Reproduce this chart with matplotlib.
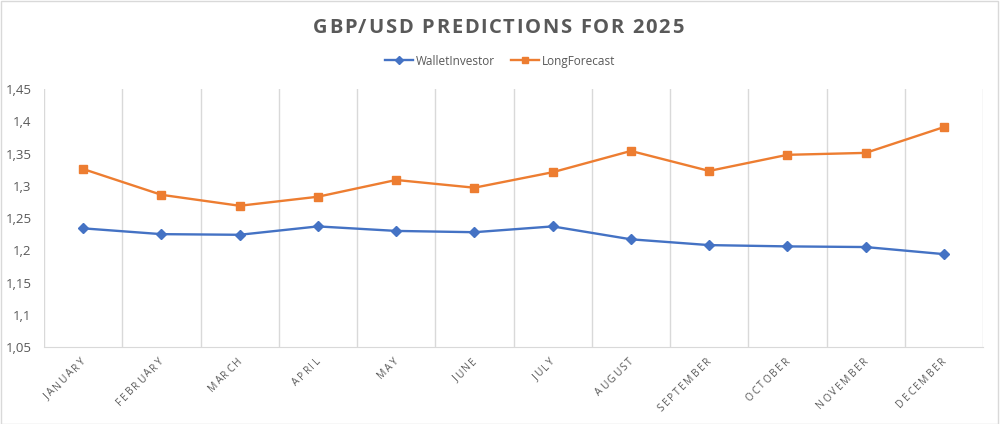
import math
import matplotlib
matplotlib.use("Agg")
import matplotlib.pyplot as plt
from matplotlib.ticker import FixedLocator, FuncFormatter
from matplotlib.patches import Rectangle

months = ["JANUARY", "FEBRUARY", "MARCH", "APRIL", "MAY", "JUNE", "JULY",
          "AUGUST", "SEPTEMBER", "OCTOBER", "NOVEMBER", "DECEMBER"]
wallet_investor = [1.234, 1.225, 1.224, 1.237, 1.230, 1.228, 1.237,
                   1.217, 1.208, 1.206, 1.205, 1.194]
long_forecast = [1.326, 1.286, 1.269, 1.283, 1.309, 1.297, 1.321,
                 1.354, 1.323, 1.348, 1.351, 1.391]
y_ticks = [1.05, 1.1, 1.15, 1.2, 1.25, 1.3, 1.35, 1.4, 1.45]
title = "GBP/USD PREDICTIONS FOR 2025"

plt.rcParams['font.family'] = ['Open Sans', 'DejaVu Sans']
GRAY = "#595959"
GRID = "#D9D9D9"
BLUE = "#4472C4"
ORANGE = "#ED7D31"

W, H = 1000, 424
fig = plt.figure(figsize=(W / 100, H / 100), dpi=100)
ax = fig.add_axes([0.044, 0.1816, 0.939, 0.6084])
renderer = fig.canvas.get_renderer()

x = list(range(len(months)))
ax.plot(x, wallet_investor, color=BLUE, lw=1.7, marker="D", ms=5.5,
        label="WalletInvestor", zorder=3)
ax.plot(x, long_forecast, color=ORANGE, lw=1.7, marker="s", ms=6,
        label="LongForecast", zorder=3)

ax.set_xlim(-0.5, len(months) - 0.5)
ax.set_ylim(1.05, 1.45)
ax.yaxis.set_major_locator(FixedLocator(y_ticks))
ax.yaxis.set_major_formatter(FuncFormatter(lambda v, p: f"{v:g}".replace(".", ",")))
ax.set_xticks(x)
ax.set_xticklabels([])
ax.set_xticks([i + 0.5 for i in range(-1, len(months))], minor=True)
ax.grid(False)
ax.xaxis.grid(True, which="minor", color=GRID, lw=1)
ax.tick_params(axis="both", which="both", length=0)
ax.tick_params(axis="y", labelsize=9.5, labelcolor=GRAY, pad=9)
for s in ["top", "right", "left"]:
    ax.spines[s].set_visible(False)
ax.spines["bottom"].set_color(GRID)


def char_width(ch, **kw):
    if ch == " ":
        t = fig.text(0, 0, "a a", **kw)
        w3 = t.get_window_extent(renderer).width
        t.remove()
        t = fig.text(0, 0, "aa", **kw)
        w2 = t.get_window_extent(renderer).width
        t.remove()
        return w3 - w2
    t = fig.text(0, 0, ch, **kw)
    w = t.get_window_extent(renderer).width
    t.remove()
    return w


def tracked_text(s, end_px, angle_deg, spacing_px, align="right", va="top", **kw):
    widths = [char_width(c, **kw) for c in s]
    total = sum(widths) + spacing_px * (len(s) - 1)
    ca, sa = math.cos(math.radians(angle_deg)), math.sin(math.radians(angle_deg))
    if align == "right":
        sx, sy = end_px[0] - total * ca, end_px[1] - total * sa
    else:  # center
        sx, sy = end_px[0] - total / 2 * ca, end_px[1] - total / 2 * sa
    off = 0.0
    for c, w in zip(s, widths):
        px, py = sx + off * ca, sy + off * sa
        fig.text(px / W, py / H, c, rotation=angle_deg, rotation_mode="anchor",
                 ha="left", va=va, **kw)
        off += w + spacing_px


# Title with letter spacing
tracked_text(title, (W / 2 - 2, H * 0.935), 0, 1.7, align="center", va="center",
             fontsize=14.5, fontweight="bold", color=GRAY)

# Rotated, letter-spaced month labels
fig.canvas.draw()
for i, m in enumerate(months):
    disp = ax.transData.transform((i, 1.05))
    tracked_text(m, (disp[0] - 3, disp[1] - 9), 45, 1.7, align="right", va="top",
                 fontsize=7.5, color=GRAY)

leg = fig.legend(loc="center", bbox_to_anchor=(0.5, 0.856), ncol=2,
                 frameon=False, fontsize=8.5, labelcolor=GRAY,
                 handlelength=2.4, columnspacing=1.4, handletextpad=0.2,
                 markerscale=0.8)

fig.patches.append(Rectangle((0.0005, 0.001), 0.997, 0.997, transform=fig.transFigure,
                             fill=False, edgecolor=GRID, lw=1))

fig.savefig("out.png", dpi=100)
